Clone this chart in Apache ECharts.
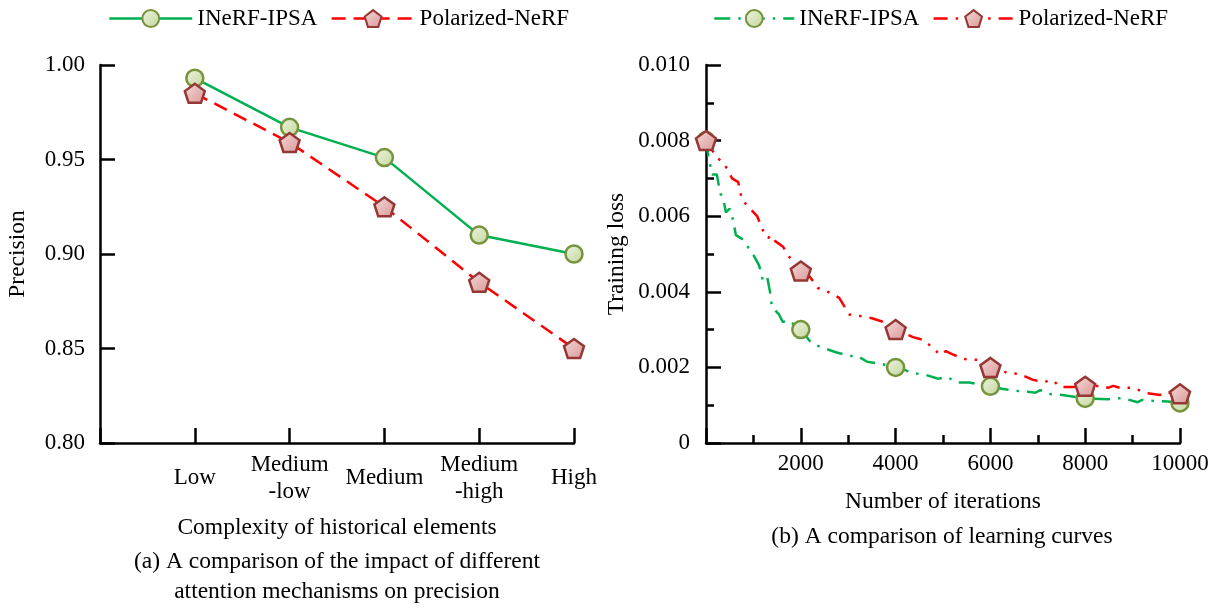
<!DOCTYPE html>
<html lang="en">

<head>
  <meta charset="UTF-8">
  <meta name="viewport" content="width=device-width, initial-scale=1.0">
  <script src="https://cdn.jsdelivr.net/npm/echarts@6.0.0/dist/echarts.min.js"></script>
  <style>
    body,
    html {
      margin: 0;
      padding: 0;
      width: 100%;
      height: 100%;
      background: #ffffff;
      overflow: hidden;
    }

    #main {
      width: 1217px;
      height: 608px;
    }
  </style>
</head>

<body>
  <div id="main"></div>
  <script type="text/javascript">
    // (a) precision vs complexity
    var complexity = ['Low', 'Medium\n-low', 'Medium', 'Medium\n-high', 'High'];
    var precisionIPSA = [0.993, 0.967, 0.951, 0.910, 0.900];
    var precisionPolar = [0.985, 0.959, 0.925, 0.885, 0.850];

    // (b) learning curves
    var itersIPSA = [0, 50, 130, 230, 300, 360, 420, 500, 570, 630, 760, 990, 1120, 1200, 1290, 1350, 1390,
      1540, 1620, 1710, 1790, 2000, 2190, 2300, 2510, 2740, 3040, 3200, 3400, 3670, 4000, 4200, 4370,
      4640, 4900, 5080, 5300, 5550, 6000, 6270, 6540, 6840, 6950, 7050, 7220, 7510, 8000, 8480, 8780,
      9110, 9200, 9470, 9750, 10000];
    var lossIPSA = [0.0080, 0.0076, 0.0071, 0.0071, 0.0066, 0.0065, 0.0061, 0.0062, 0.0059, 0.0055, 0.0054,
      0.0050, 0.0047, 0.0043, 0.0044, 0.0040, 0.0036, 0.0034, 0.0032, 0.00325, 0.0032, 0.0030, 0.0027,
      0.0026, 0.0025, 0.0024, 0.0023, 0.0023, 0.00215, 0.0021, 0.0020, 0.00193, 0.00185, 0.0018, 0.0017,
      0.00175, 0.0016, 0.0016, 0.0015, 0.00143, 0.00138, 0.00135, 0.00133, 0.0014, 0.0013, 0.00127,
      0.00118, 0.00116, 0.00119, 0.00108, 0.00114, 0.00111, 0.0011, 0.00106];
    var itersPolar = [0, 130, 230, 380, 550, 680, 760, 800, 930, 1080, 1200, 1310, 1370, 1460, 1620, 1770,
      2000, 2190, 2360, 2570, 2810, 3020, 3250, 3500, 3750, 4000, 4370, 4600, 4830, 4940, 5060, 5190,
      5460, 5720, 6000, 6200, 6350, 6600, 6900, 7150, 7260, 7360, 7470, 7740, 8000, 8350, 8480, 8590,
      8730, 9010, 9300, 9580, 9680, 9830, 10000];
    var lossPolar = [0.0080, 0.00775, 0.00755, 0.0074, 0.0070, 0.0069, 0.00643, 0.00648, 0.0062, 0.0060,
      0.00563, 0.00542, 0.0055, 0.00534, 0.0052, 0.0049, 0.00455, 0.0044, 0.0041, 0.0040, 0.00384,
      0.0034, 0.00336, 0.0033, 0.0032, 0.0030, 0.0028, 0.00272, 0.00246, 0.00233, 0.00243, 0.00235,
      0.00222, 0.0022, 0.0020, 0.00196, 0.00185, 0.00183, 0.00167, 0.00161, 0.00167, 0.00161, 0.00148,
      0.00148, 0.0015, 0.00151, 0.00146, 0.00151, 0.00146, 0.00146, 0.00132, 0.00127, 0.00135, 0.00132,
      0.0013];
    var markerIters = [0, 2000, 4000, 6000, 8000, 10000];

    var FONT = 'Liberation Serif';
    var GREEN = '#00b050';
    var RED = '#ff0000';
    var PENTAGON = 'path://M0,-1L0.951,-0.309L0.588,0.809L-0.588,0.809L-0.951,-0.309Z';

    var circleStyle = {
      color: new echarts.graphic.LinearGradient(0, 0, 1, 1, [
        { offset: 0, color: '#eef4e2' },
        { offset: 1, color: '#c3d69b' }
      ]),
      borderColor: '#77933c',
      borderWidth: 2.5
    };
    var pentagonStyle = {
      color: new echarts.graphic.LinearGradient(0, 0, 1, 1, [
        { offset: 0, color: '#f4dcdb' },
        { offset: 1, color: '#d99694' }
      ]),
      borderColor: '#953735',
      borderWidth: 2.5
    };

    function curve(iters, vals) {
      return iters.map(function (x, i) {
        if (markerIters.indexOf(x) >= 0) return [x, vals[i]];
        return { value: [x, vals[i]], symbol: 'none' };
      });
    }

    var axisLine = { lineStyle: { color: '#000', width: 2.5 } };
    var axisTick = { inside: true, length: 15, lineStyle: { color: '#000', width: 2.5 } };
    var minorTick = { show: true, splitNumber: 2, length: 8, lineStyle: { color: '#000', width: 2.5 } };
    var labelText = { color: '#000', fontFamily: FONT, fontSize: 23 };
    var nameText = { color: '#000', fontFamily: FONT, fontSize: 23.5 };
    var captionText = { color: '#000', fontFamily: FONT, fontSize: 23.5, fontWeight: 'normal', lineHeight: 30 };

    var myChart = echarts.init(document.getElementById('main'));

    var option = {
      backgroundColor: '#ffffff',
      animation: false,
      title: [{
        text: '(a) A comparison of the impact of different\nattention mechanisms on precision',
        left: 337,
        top: 547,
        padding: 0,
        textAlign: 'center',
        textStyle: captionText
      }, {
        text: '(b) A comparison of learning curves',
        left: 942,
        top: 522,
        padding: 0,
        textAlign: 'center',
        textStyle: captionText
      }],
      legend: [{
        left: 108,
        top: 7,
        padding: 0,
        itemWidth: 83,
        itemHeight: 21,
        itemGap: 13,
        textStyle: { color: '#000', fontFamily: FONT, fontSize: 23 },
        data: [
          { name: 'INeRF-IPSA', lineStyle: { type: 'solid', width: 2.5, color: GREEN } },
          { name: 'Polarized-NeRF', lineStyle: { type: [14, 8], width: 2.5, color: RED } }
        ]
      }, {
        left: 713,
        top: 7,
        padding: 0,
        itemWidth: 80,
        itemHeight: 21,
        itemGap: 13,
        textStyle: { color: '#000', fontFamily: FONT, fontSize: 23 },
        data: [
          { name: 'INeRF-IPSA', lineStyle: { type: [16, 8, 2.5, 8], width: 2.5, color: GREEN } },
          { name: 'Polarized-NeRF', lineStyle: { type: [14, 8, 2.5, 8], width: 2.5, color: RED } }
        ]
      }],
      grid: [
        { left: 100, top: 65, width: 474, height: 378 },
        { left: 706, top: 65, width: 474, height: 378 }
      ],
      xAxis: [{
        gridIndex: 0,
        type: 'value',
        min: 0,
        max: 5,
        interval: 1,
        name: 'Complexity of historical elements',
        nameLocation: 'middle',
        nameGap: 73,
        nameTextStyle: nameText,
        axisLine: axisLine,
        axisTick: axisTick,
        splitLine: { show: false },
        axisLabel: Object.assign({}, labelText, {
          margin: 35,
          verticalAlign: 'middle',
          lineHeight: 27,
          showMinLabel: true,
          showMaxLabel: true,
          formatter: function (v) { return v >= 1 ? complexity[v - 1] : ''; }
        })
      }, {
        gridIndex: 1,
        type: 'value',
        min: 0,
        max: 10000,
        interval: 2000,
        name: 'Number of iterations',
        nameLocation: 'middle',
        nameGap: 47,
        nameTextStyle: nameText,
        axisLine: axisLine,
        axisTick: axisTick,
        minorTick: minorTick,
        splitLine: { show: false },
        axisLabel: Object.assign({}, labelText, {
          margin: 9,
          showMaxLabel: true,
          formatter: function (v) { return v === 0 ? '' : String(v); }
        })
      }],
      yAxis: [{
        gridIndex: 0,
        type: 'value',
        min: 0.8,
        max: 1.0,
        interval: 0.05,
        name: 'Precision',
        nameLocation: 'middle',
        nameGap: 70,
        nameTextStyle: nameText,
        axisLine: axisLine,
        axisTick: axisTick,
        splitLine: { show: false },
        axisLabel: Object.assign({}, labelText, {
          margin: 15,
          formatter: function (v) { return v.toFixed(2); }
        })
      }, {
        gridIndex: 1,
        type: 'value',
        min: 0,
        max: 0.01,
        interval: 0.002,
        name: 'Training loss',
        nameLocation: 'middle',
        nameGap: 77,
        nameTextStyle: nameText,
        axisLine: axisLine,
        axisTick: axisTick,
        minorTick: minorTick,
        splitLine: { show: false },
        axisLabel: Object.assign({}, labelText, {
          margin: 16,
          formatter: function (v) { return v === 0 ? '0' : v.toFixed(3); }
        })
      }],
      series: [{
        name: 'INeRF-IPSA',
        type: 'line',
        xAxisIndex: 0,
        yAxisIndex: 0,
        data: precisionIPSA.map(function (v, i) { return [i + 1, v]; }),
        symbol: 'circle',
        symbolSize: 17,
        lineStyle: { color: GREEN, width: 2.5 },
        itemStyle: circleStyle
      }, {
        name: 'Polarized-NeRF',
        type: 'line',
        xAxisIndex: 0,
        yAxisIndex: 0,
        data: precisionPolar.map(function (v, i) { return [i + 1, v]; }),
        symbol: PENTAGON,
        symbolSize: 20,
        symbolKeepAspect: true,
        lineStyle: { color: RED, width: 2.5, type: [14, 8] },
        itemStyle: pentagonStyle
      }, {
        name: 'INeRF-IPSA',
        type: 'line',
        xAxisIndex: 1,
        yAxisIndex: 1,
        data: curve(itersIPSA, lossIPSA),
        symbol: 'circle',
        symbolSize: 17,
        showAllSymbol: true,
        lineStyle: { color: GREEN, width: 2.5, type: [16, 8, 2.5, 8] },
        itemStyle: circleStyle
      }, {
        name: 'Polarized-NeRF',
        type: 'line',
        xAxisIndex: 1,
        yAxisIndex: 1,
        data: curve(itersPolar, lossPolar),
        symbol: PENTAGON,
        symbolSize: 20,
        symbolKeepAspect: true,
        showAllSymbol: true,
        lineStyle: { color: RED, width: 2.5, type: [14, 8, 2.5, 8, 2.5, 8] },
        itemStyle: pentagonStyle
      }]
    };

    myChart.setOption(option);

    window.addEventListener('resize', function () {
      myChart.resize();
    });
  </script>
</body>

</html>
